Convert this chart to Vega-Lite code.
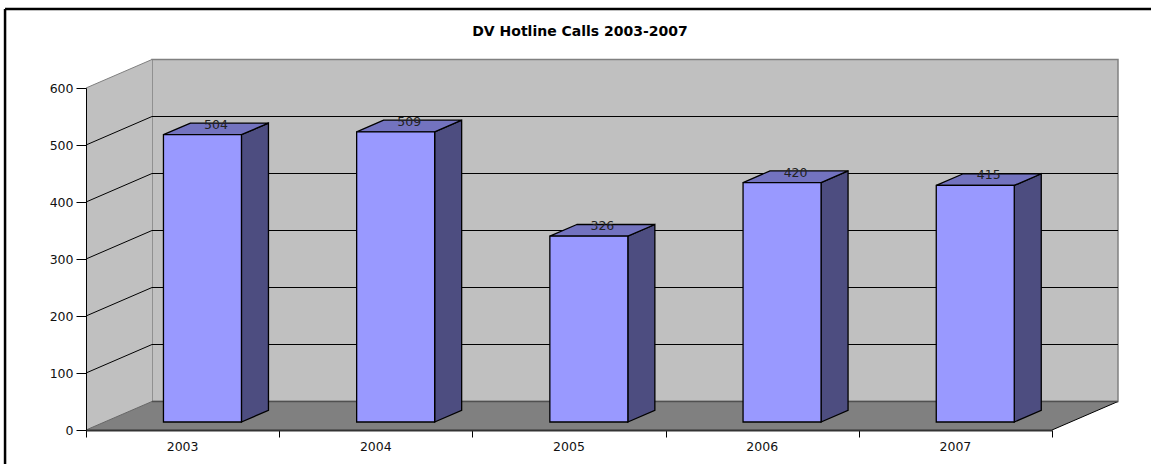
{
"$schema":"https://vega.github.io/schema/vega-lite/v6.json",
"width":966,"height":342,
"autosize":{"type":"none"},
"padding":{"left":86,"top":88,"right":99,"bottom":34},
"background":"white",
"title":{"text":"DV Hotline Calls 2003-2007","font":"DejaVu Sans","fontSize":14,"fontWeight":"bold","color":"#000","anchor":"middle","frame":"group","dx":11,"offset":-31},
"config":{"view":{"stroke":null},"text":{"font":"DejaVu Sans"}},
"datasets":{
"bars":[{"year":2003,"calls":504},{"year":2004,"calls":509},{"year":2005,"calls":326},{"year":2006,"calls":420},{"year":2007,"calls":415}],
"ticks":[{"v":0},{"v":100},{"v":200},{"v":300},{"v":400},{"v":500},{"v":600}],
"depth":[{"t":0},{"t":1}]
},
"layer":[
{"data":{"name":"ticks"},"mark":{"type":"rect","fill":"#C0C0C0","stroke":"#808080","strokeWidth":1.5},
 "transform":[{"filter":"datum.v==0"},{"calculate":"0.3416","as":"a"},{"calculate":"5.3416","as":"b"},{"calculate":"50","as":"c"},{"calculate":"650","as":"d"}],
 "encoding":{
  "x":{"field":"a","type":"quantitative","scale":{"domain":[0,5],"nice":false,"zero":false},
       "axis":{"values":[0,1,2,3,4,5],"labels":false,"tickSize":7,"tickColor":"#000","domainColor":"#333","domainWidth":2,"grid":false,"zindex":1,"title":null}},
  "x2":{"field":"b"},
  "y":{"field":"c","type":"quantitative","scale":{"domain":[0,600],"nice":false,"zero":false},
       "axis":{"values":[0,100,200,300,400,500,600],"tickSize":10,"tickColor":"#000","domainColor":"#000","domainWidth":1,"grid":false,"zindex":1,"labelFont":"DejaVu Sans","labelFontSize":12.5,"labelColor":"#111","labelPadding":3,"title":null}},
  "y2":{"field":"d"}
 }},
{"data":{"name":"depth"},"mark":{"type":"area","fill":"#C0C0C0"},
 "transform":[{"calculate":"datum.t*0.3416","as":"x"},{"calculate":"datum.t*50","as":"lo"},{"calculate":"600+datum.t*50","as":"hi"}],
 "encoding":{"x":{"field":"x","type":"quantitative"},"y":{"field":"lo","type":"quantitative"},"y2":{"field":"hi"}}},
{"data":{"name":"depth"},"mark":{"type":"area","fill":"#808080","orient":"horizontal"},
 "transform":[{"calculate":"datum.t*0.3416","as":"x"},{"calculate":"5+datum.t*0.3416","as":"x2"},{"calculate":"datum.t*50","as":"y"}],
 "encoding":{"y":{"field":"y","type":"quantitative"},"x":{"field":"x","type":"quantitative"},"x2":{"field":"x2"}}},
{"data":{"name":"ticks"},"mark":{"type":"rule","color":"#000","strokeWidth":1},
 "transform":[{"filter":"datum.v>0 && datum.v<600"},{"calculate":"datum.v+50","as":"vb"},{"calculate":"0.3416","as":"a"},{"calculate":"5.3416","as":"b"}],
 "encoding":{"x":{"field":"a","type":"quantitative"},"x2":{"field":"b"},"y":{"field":"vb","type":"quantitative"}}},
{"data":{"name":"ticks"},"mark":{"type":"rule","strokeWidth":1},
 "transform":[{"calculate":"datum.v+50","as":"vb"},{"calculate":"0","as":"a"},{"calculate":"0.3416","as":"b"},{"calculate":"datum.v==600?'#808080':datum.v==0?'#666666':'#000000'","as":"c"}],
 "encoding":{"x":{"field":"a","type":"quantitative"},"x2":{"field":"b"},"y":{"field":"v","type":"quantitative"},"y2":{"field":"vb"},"color":{"field":"c","type":"nominal","scale":null}}},
{"data":{"name":"ticks"},"mark":{"type":"rule","color":"#000","strokeWidth":1},
 "transform":[{"filter":"datum.v==0"},{"calculate":"50","as":"vb"},{"calculate":"5","as":"a"},{"calculate":"5.3416","as":"b"}],
 "encoding":{"x":{"field":"a","type":"quantitative"},"x2":{"field":"b"},"y":{"field":"v","type":"quantitative"},"y2":{"field":"vb"}}},
{"data":{"name":"ticks"},"mark":{"type":"rule","color":"#505050","strokeWidth":1.5},
 "transform":[{"filter":"datum.v==0"},{"calculate":"50","as":"vb"},{"calculate":"0.3416","as":"a"},{"calculate":"5.3416","as":"b"}],
 "encoding":{"x":{"field":"a","type":"quantitative"},"x2":{"field":"b"},"y":{"field":"vb","type":"quantitative"}}},
{"data":{"name":"bars"},"mark":{"type":"area","fill":"#4D4D80","stroke":"#000","strokeWidth":1.3},
 "transform":[{"calculate":"[0,1]","as":"t"},{"flatten":["t"]},
  {"calculate":"datum.year-2003+0.8046+datum.t*0.1398","as":"x"},
  {"calculate":"14.04+datum.t*20.5","as":"lo"},
  {"calculate":"datum.calls+14.04+datum.t*20.5","as":"hi"}],
 "encoding":{"x":{"field":"x","type":"quantitative"},"y":{"field":"lo","type":"quantitative"},"y2":{"field":"hi"},"detail":{"field":"year","type":"nominal"}}},
{"data":{"name":"bars"},"mark":{"type":"area","fill":"#7373BF","stroke":"#000","strokeWidth":1.3,"orient":"horizontal"},
 "transform":[{"calculate":"[0,1]","as":"t"},{"flatten":["t"]},
  {"calculate":"datum.year-2003+0.4009+datum.t*0.1398","as":"x"},
  {"calculate":"datum.year-2003+0.8046+datum.t*0.1398","as":"x2"},
  {"calculate":"datum.calls+14.04+datum.t*20.5","as":"y"}],
 "encoding":{"y":{"field":"y","type":"quantitative"},"x":{"field":"x","type":"quantitative"},"x2":{"field":"x2"},"detail":{"field":"year","type":"nominal"}}},
{"data":{"name":"bars"},"mark":{"type":"rect","fill":"#9999FF","stroke":"#000","strokeWidth":1.3},
 "transform":[{"calculate":"datum.year-2003+0.4009","as":"x"},{"calculate":"datum.year-2003+0.8046","as":"x2"},{"calculate":"datum.calls+14.04","as":"top"},{"calculate":"14.04","as":"base"}],
 "encoding":{"x":{"field":"x","type":"quantitative"},"x2":{"field":"x2"},"y":{"field":"base","type":"quantitative"},"y2":{"field":"top"}}},
{"data":{"name":"bars"},"mark":{"type":"text","fontSize":12.5,"color":"#222","baseline":"middle","align":"center"},
 "transform":[{"calculate":"datum.year-2003+0.6028+0.07","as":"x"},{"calculate":"datum.calls+14.04+17.5","as":"y"}],
 "encoding":{"x":{"field":"x","type":"quantitative"},"y":{"field":"y","type":"quantitative"},"text":{"field":"calls","type":"quantitative"}}},
{"data":{"name":"bars"},"mark":{"type":"text","fontSize":12.5,"color":"#111","baseline":"middle","align":"center"},
 "transform":[{"calculate":"datum.year-2003+0.5","as":"x"},{"calculate":"-29","as":"y"}],
 "encoding":{"x":{"field":"x","type":"quantitative"},"y":{"field":"y","type":"quantitative"},"text":{"field":"year","type":"nominal"}}},
{"data":{"name":"ticks"},"mark":{"type":"rule","color":"#000","strokeWidth":2.5},
 "transform":[{"filter":"datum.v==0"},{"calculate":"-0.419","as":"a"},{"calculate":"5.52","as":"b"},{"calculate":"738.6","as":"c"}],
 "encoding":{"x":{"field":"a","type":"quantitative"},"x2":{"field":"b"},"y":{"field":"c","type":"quantitative"}}},
{"data":{"name":"ticks"},"mark":{"type":"rule","color":"#000","strokeWidth":2.5},
 "transform":[{"filter":"datum.v==0"},{"calculate":"-0.419","as":"a"},{"calculate":"-60","as":"b"},{"calculate":"738.6","as":"c"}],
 "encoding":{"x":{"field":"a","type":"quantitative"},"y":{"field":"c","type":"quantitative"},"y2":{"field":"b"}}}
]
}
